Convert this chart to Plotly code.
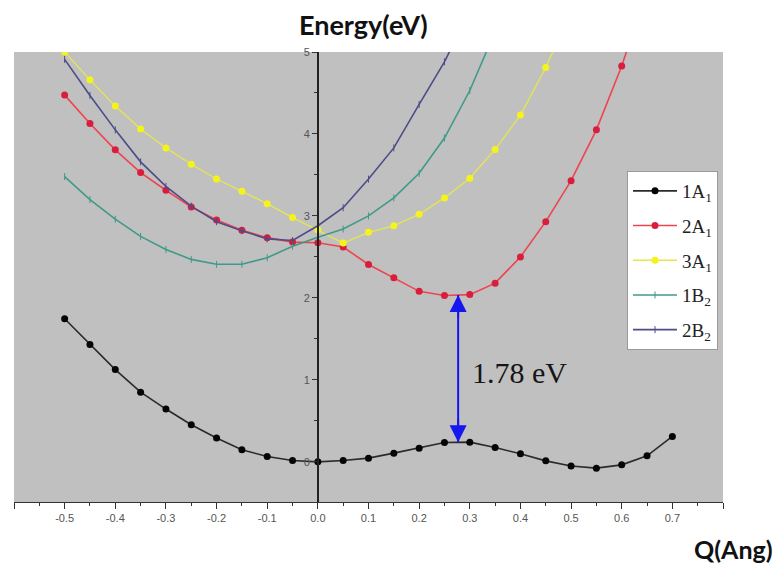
import plotly.graph_objects as go
import numpy as np

# ---------------- data ----------------
Q = [-0.5, -0.45, -0.4, -0.35, -0.3, -0.25, -0.2, -0.15, -0.1, -0.05, 0.0,
     0.05, 0.1, 0.15, 0.2, 0.25, 0.3, 0.35, 0.4, 0.45, 0.5, 0.55, 0.6, 0.65, 0.7]

E_1A1 = [1.745, 1.43, 1.125, 0.85, 0.644, 0.452, 0.29, 0.147, 0.065, 0.016, 0.0,
         0.016, 0.045, 0.106, 0.167, 0.235, 0.24, 0.175, 0.098, 0.012, -0.05,
         -0.077, -0.037, 0.073, 0.31]
E_2A1 = [4.474, 4.128, 3.806, 3.529, 3.313, 3.109, 2.95, 2.824, 2.735, 2.681, 2.673,
         2.62, 2.408, 2.245, 2.08, 2.03, 2.04, 2.18, 2.50, 2.93, 3.43, 4.05, 4.83, 5.75]
E_3A1 = [5.0, 4.66, 4.34, 4.06, 3.83, 3.63, 3.45, 3.30, 3.15, 2.98, 2.83,
         2.67, 2.80, 2.88, 3.02, 3.22, 3.46, 3.81, 4.23, 4.81, 5.5]
E_1B2 = [3.48, 3.20, 2.96, 2.75, 2.59, 2.47, 2.41, 2.41, 2.49, 2.63, 2.74,
         2.84, 3.0, 3.22, 3.52, 3.95, 4.53, 5.25]
E_2B2 = [4.91, 4.47, 4.05, 3.66, 3.36, 3.12, 2.93, 2.82, 2.72, 2.70, 2.88,
         3.10, 3.45, 3.83, 4.36, 4.88, 5.5]

names = ["1A<sub>1</sub>", "2A<sub>1</sub>", "3A<sub>1</sub>", "1B<sub>2</sub>", "2B<sub>2</sub>"]

x_tickvals = [-0.6, -0.5, -0.4, -0.3, -0.2, -0.1, 0.0, 0.1, 0.2, 0.3, 0.4, 0.5, 0.6, 0.7, 0.8]
x_ticktext = [" ", "-0.5", "-0.4", "-0.3", "-0.2", "-0.1", "0.0", "0.1", "0.2", "0.3",
              "0.4", "0.5", "0.6", "0.7", " "]
y_tickvals = [0, 1, 2, 3, 4, 5]

x_range = [-0.6, 0.8]
y_range = [-0.49, 5.0]

gap_label = "1.78 eV"
arrow_x = 0.277

# ---------------- figure ----------------
fig = go.Figure()

def add(y, name, lcolor, lwidth, msym, mcolor, msize, group, mline=None):
    marker = dict(symbol=msym, size=msize, color=mcolor)
    if mline:
        marker["line"] = mline
    fig.add_trace(go.Scatter(
        x=Q[:len(y)], y=y, name=name, mode="lines+markers",
        line=dict(color=lcolor, width=lwidth), marker=marker,
        legendgroup=group, cliponaxis=True))

add(E_1A1, names[0], "#2a2a2a", 1.6, "circle", "#050505", 7, "a")
add(E_2A1, names[1], "#ee4450", 1.6, "circle", "#d81e3c", 7, "b")
add(E_3A1, names[2], "#e6e650", 1.3, "circle", "#f4f41c", 7, "c")
add(E_1B2, names[3], "#3f9a88", 1.6, "line-ns", "#3f9a88", 5, "d",
    dict(width=1, color="#3f9a88"))
add(E_2B2, names[4], "#4c4c88", 1.6, "line-ns", "#4c4c88", 5, "e",
    dict(width=1, color="#4c4c88"))

top = float(np.interp(arrow_x, Q[:len(E_2A1)], E_2A1))
bot = float(np.interp(arrow_x, Q, E_1A1))

arrow_color = "#1616ee"
fig.add_shape(type="line", xref="x", yref="y", x0=arrow_x, x1=arrow_x, y0=bot, y1=top,
              line=dict(color=arrow_color, width=2))

arrow_common = dict(xref="x", yref="y", axref="x", ayref="y", text="",
                    showarrow=True, arrowhead=2, arrowsize=1.7, arrowwidth=2,
                    arrowcolor=arrow_color, standoff=0)

pos0 = (0 - x_range[0]) / (x_range[1] - x_range[0])

fig.update_layout(
    width=777, height=563,
    margin=dict(l=14, r=54, t=52, b=61),
    paper_bgcolor="white",
    plot_bgcolor="#c0c0c0",
    showlegend=True,
    legend=dict(x=(627 - 14) / 709, y=1 - (171 - 52) / 450, xanchor="left", yanchor="top",
                bgcolor="white", bordercolor="#9a9a9a", borderwidth=1,
                font=dict(family="Liberation Serif", size=19, color="#222"),
                tracegroupgap=7, itemwidth=44),
    xaxis=dict(range=x_range, tickvals=x_tickvals, ticktext=x_ticktext,
               showgrid=False, zeroline=False, showline=True, linecolor="#333",
               linewidth=1, ticks="outside", ticklen=6, tickcolor="#333",
               minor=dict(ticks="outside", ticklen=3, dtick=0.05, tick0=0, tickcolor="#333"),
               tickfont=dict(family="Liberation Sans", size=11, color="#555"),
               fixedrange=True),
    yaxis=dict(range=y_range, tickvals=y_tickvals, anchor="free", position=pos0,
               showgrid=False, zeroline=False, showline=True, linecolor="#222",
               linewidth=1.5, ticks="outside", ticklen=5, tickcolor="#333",
               minor=dict(ticks="outside", ticklen=3, dtick=0.5, tick0=0, tickcolor="#333"),
               tickfont=dict(family="Liberation Sans", size=11, color="#555"),
               fixedrange=True),
    annotations=[
        dict(x=arrow_x, y=top, ax=arrow_x, ay=top - 0.3, **arrow_common),
        dict(x=arrow_x, y=bot, ax=arrow_x, ay=bot + 0.3, **arrow_common),
        dict(x=0.30, y=1.09, xref="x", yref="y", text=gap_label, showarrow=False,
             xanchor="left", yanchor="middle",
             font=dict(family="Liberation Serif", size=30, color="#151515")),
        dict(x=(363 - 14) / 709, y=1 + (52 - 25) / 450, xref="paper", yref="paper",
             text="<b>Energy(eV)</b>", showarrow=False, xanchor="center", yanchor="middle",
             font=dict(family="Lato", size=27, color="#111")),
        dict(x=(775 - 14) / 709, y=-(549 - 502) / 450, xref="paper", yref="paper",
             text="<b>Q(Ang)</b>", showarrow=False, xanchor="right", yanchor="middle",
             font=dict(family="Lato", size=25, color="#111")),
    ],
)

fig.write_html("out.html")
